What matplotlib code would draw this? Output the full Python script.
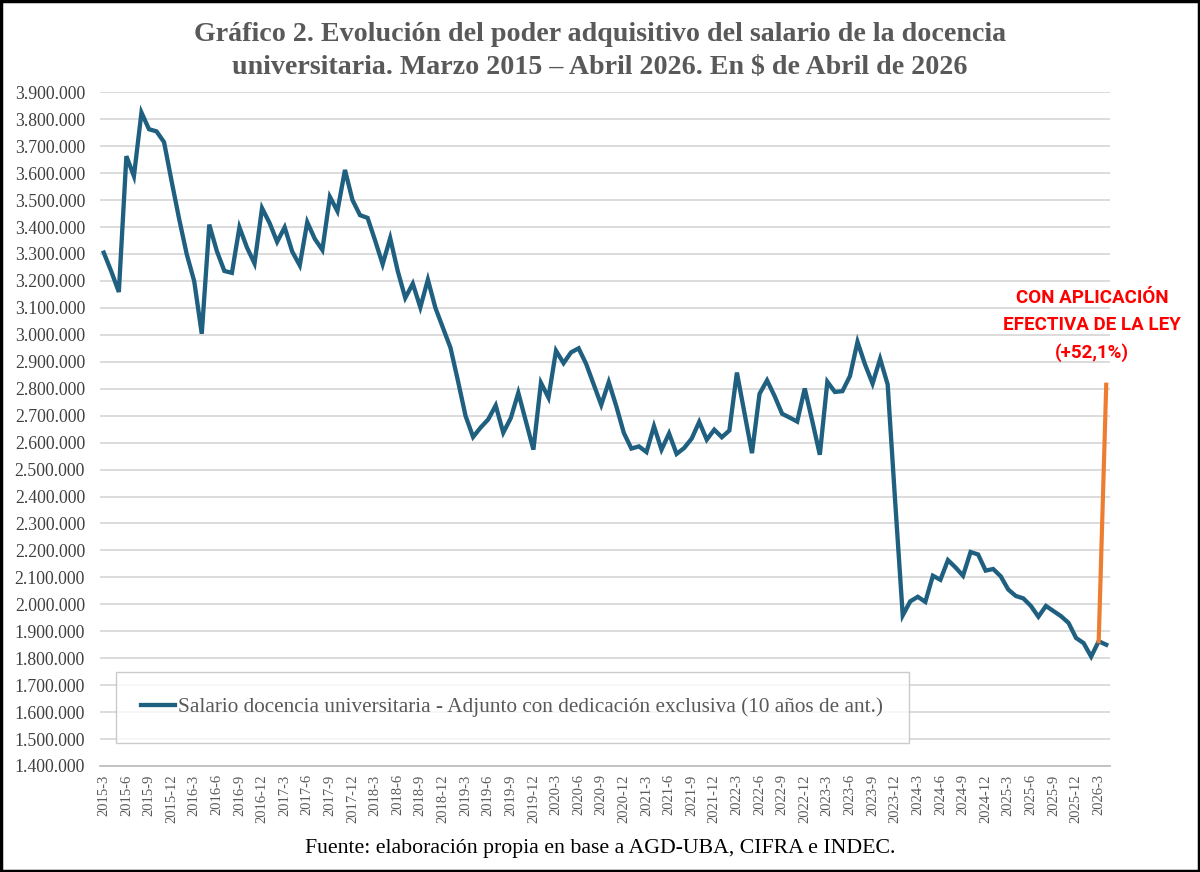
import numpy as np
import matplotlib.pyplot as plt
from matplotlib.patches import Rectangle
from matplotlib.ticker import FuncFormatter

# monthly series, 2015-3 .. 2026-4 (constant $ of April 2026)
start_year, start_month = 2015, 3
salario = [
    3305000, 3235000, 3159000, 3663000, 3589000, 3825000, 3763000, 3755000, 3715000, 3570000,
    3430000, 3300000, 3199000, 3004000, 3409000, 3311000, 3237000, 3230000, 3399000, 3324000,
    3265000, 3470000, 3415000, 3345000, 3399000, 3309000, 3258000, 3418000, 3356000, 3315000,
    3512000, 3459000, 3612000, 3500000, 3444000, 3434000, 3350000, 3262000, 3359000, 3237000,
    3137000, 3190000, 3102000, 3205000, 3100000, 3026000, 2952000, 2828000, 2699000, 2621000,
    2656000, 2686000, 2738000, 2637000, 2691000, 2785000, 2680000, 2574000, 2822000, 2767000,
    2941000, 2895000, 2935000, 2950000, 2892000, 2816000, 2740000, 2825000, 2735000, 2636000,
    2578000, 2586000, 2565000, 2661000, 2574000, 2634000, 2558000, 2580000, 2615000, 2677000,
    2611000, 2648000, 2620000, 2645000, 2860000, 2711000, 2561000, 2781000, 2831000, 2773000,
    2707000, 2693000, 2678000, 2801000, 2680000, 2555000, 2826000, 2788000, 2791000, 2847000,
    2974000, 2890000, 2819000, 2911000, 2816000, 2380000, 1959000, 2011000, 2028000, 2009000,
    2106000, 2091000, 2164000, 2137000, 2106000, 2194000, 2185000, 2125000, 2131000, 2104000,
    2055000, 2031000, 2022000, 1994000, 1954000, 1994000, 1975000, 1956000, 1931000, 1875000,
    1856000, 1806000, 1863000, 1850000,
]
# counterfactual jump with the law applied (+52,1%)
ley_idx = [132, 133]
ley_val = [1863000, 2815000]

labels = []
for k in range(len(salario)):
    m = start_month - 1 + k
    labels.append(f"{start_year + m // 12}-{m % 12 + 1}")

x = np.arange(len(salario))

plt.rcParams['font.family'] = ['Liberation Serif', 'DejaVu Serif']

fig = plt.figure(figsize=(12, 8.72), dpi=100)
ax = fig.add_axes([100 / 1200, 1 - 766 / 872, 1010 / 1200, 673.7 / 872])

ax.plot(x, salario, color='#1f5f80', lw=3.1, solid_joinstyle='miter',
        label='Salario docencia universitaria - Adjunto con dedicación exclusiva (10 años de ant.)')
ax.plot(ley_idx, ley_val, color='#ed7d31', lw=3.0)

ax.set_xlim(-0.5, len(salario) - 0.5)
ax.set_ylim(1400000, 3900000)
ax.set_yticks(np.arange(1400000, 3900001, 100000))
ax.yaxis.set_major_formatter(FuncFormatter(lambda v, p: f"{int(v):,}".replace(",", ".")))
ax.set_xticks(x[::3])
ax.set_xticklabels(labels[::3], rotation=90)

ax.grid(axis='y', color='#d9d9d9', lw=1.3)
ax.set_axisbelow(True)
for s in ['top', 'right', 'left']:
    ax.spines[s].set_visible(False)
ax.spines['bottom'].set_color('#bfbfbf')
ax.spines['bottom'].set_linewidth(1.3)
ax.tick_params(axis='y', length=0, pad=10.8, labelsize=12.8, labelcolor='#404040')
ax.tick_params(axis='x', length=0, pad=6, labelsize=10.5, labelcolor='#595959')

leg = ax.legend(loc='center', bbox_to_anchor=(0.408, 0.087), fontsize=15.3, frameon=True,
                fancybox=False, borderpad=1.2, handlelength=1.6, handletextpad=0.15,
                borderaxespad=0)
leg.get_frame().set_edgecolor('#bfbfbf')
leg.get_frame().set_linewidth(1.0)
for t in leg.get_texts():
    t.set_color('#595959')

ax.text(1092 / 1200, 1 - 325.5 / 872, 'CON APLICACIÓN\nEFECTIVA DE LA LEY\n(+52,1%)',
        transform=fig.transFigure, ha='center', va='center', color='#ff0000',
        fontsize=13.5, fontweight='bold', family=['Roboto', 'DejaVu Sans'], linespacing=1.62)

fig.text(0.5, 1 - 51 / 872, 'Gráfico 2. Evolución del poder adquisitivo del salario de la docencia\n'
         'universitaria. Marzo 2015 – Abril 2026. En $ de Abril de 2026',
         ha='center', va='center', fontsize=20.2, fontweight='bold', color='#595959', linespacing=1.39)
fig.text(0.5, 1 - 848 / 872, 'Fuente: elaboración propia en base a AGD-UBA, CIFRA e INDEC.',
         ha='center', va='center', fontsize=15.7, color='black')

fig.patches.append(Rectangle((0.001, 0.001), 0.998, 0.998, transform=fig.transFigure,
                             fill=False, edgecolor='black', lw=2.5))

fig.savefig('out.png', dpi=100)
